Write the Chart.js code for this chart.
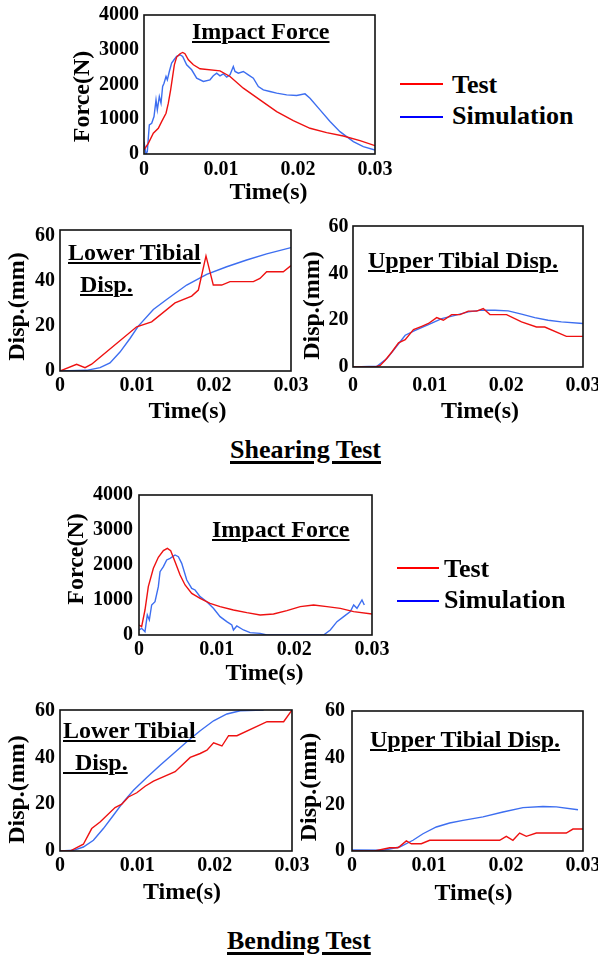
<!DOCTYPE html>
<html>
<head>
<meta charset="utf-8">
<script src="https://cdn.jsdelivr.net/npm/chart.js@4.4.1/dist/chart.umd.min.js"></script>
<style>
html,body{margin:0;padding:0;background:#fff;}
body{width:598px;height:956px;position:relative;overflow:hidden;font-family:"Liberation Serif","Times New Roman",serif;font-weight:bold;color:#000;}
canvas{position:absolute;}
.t{position:absolute;white-space:pre;line-height:1;font-size:24px;font-weight:bold;text-decoration:underline;text-decoration-thickness:2px;text-underline-offset:2px;}
.sec{position:absolute;white-space:pre;line-height:1;font-size:26px;font-weight:bold;text-decoration:underline;text-decoration-thickness:2.5px;text-underline-offset:3px;}
.lg{position:absolute;white-space:pre;line-height:1;font-size:26px;font-weight:bold;}
.ln{position:absolute;height:2px;}
</style>
</head>
<body>
<script>
// ---------- tick values / labels ----------
const timeTicks = [0, 0.01, 0.02, 0.03];
const timeTickLabels = ['0', '0.01', '0.02', '0.03'];
const forceTicks = [0, 1000, 2000, 3000, 4000];
const dispTicks = [0, 20, 40, 60];

// ---------- Shearing test : impact force (N) ----------
const shearForceTestT = [0, 0.00056, 0.00121, 0.00186, 0.00229, 0.00286, 0.00316, 0.00346, 0.00372, 0.00394, 0.00424, 0.00468, 0.00502, 0.00532, 0.00576, 0.00641, 0.00727, 0.00987, 0.01117, 0.0129, 0.01506, 0.01723, 0.01939, 0.02156, 0.02372, 0.02589, 0.02805, 0.03];
const shearForceTestF = [120, 308, 596, 740, 933, 1173, 1462, 1846, 2231, 2567, 2788, 2885, 2923, 2885, 2712, 2567, 2452, 2394, 2231, 1894, 1558, 1221, 962, 740, 615, 519, 385, 240];
const shearForceSimT = [0, 0.00026, 0.00043, 0.00069, 0.0010, 0.0013, 0.00156, 0.00173, 0.00199, 0.00221, 0.00242, 0.0026, 0.00286, 0.00303, 0.00329, 0.00359, 0.0039, 0.00424, 0.00468, 0.00502, 0.00554, 0.00619, 0.00684, 0.00771, 0.00857, 0.0090, 0.00944, 0.00987, 0.0103, 0.01074, 0.01117, 0.0116, 0.01182, 0.01225, 0.0129, 0.01355, 0.0142, 0.01485, 0.0155, 0.01636, 0.01723, 0.01853, 0.01983, 0.02091, 0.02156, 0.02286, 0.02416, 0.02545, 0.02632, 0.02719, 0.02848, 0.03];
const shearForceSimF = [350, 0, 70, 836, 885, 1077, 1558, 1269, 1654, 1462, 1942, 2038, 2231, 2135, 2375, 2615, 2712, 2808, 2856, 2808, 2567, 2423, 2183, 2087, 2135, 2250, 2327, 2250, 2308, 2212, 2279, 2519, 2375, 2327, 2375, 2279, 2183, 1942, 1846, 1798, 1750, 1702, 1683, 1731, 1606, 1269, 933, 644, 500, 356, 212, 115];

// ---------- Shearing test : lower tibial displacement (mm) ----------
const shearLowerTestT = [0, 0.00216, 0.00325, 0.00411, 0.0052, 0.00996, 0.0119, 0.01494, 0.0171, 0.01797, 0.01896, 0.01991, 0.021, 0.02208, 0.02511, 0.02597, 0.02684, 0.029, 0.03];
const shearLowerTestD = [0, 3.0, 1.5, 3.0, 6.1, 19.6, 21.8, 30.2, 33.2, 35.9, 51.0, 38.1, 38.1, 39.6, 39.6, 41.0, 44.0, 44.0, 46.7];
const shearLowerSimT = [0, 0.00346, 0.0052, 0.00649, 0.00779, 0.00909, 0.01017, 0.01212, 0.01385, 0.01645, 0.01905, 0.02165, 0.02424, 0.02684, 0.03];
const shearLowerSimD = [0, 0.3, 1.5, 3.6, 8.4, 14.4, 19.9, 27.3, 31.7, 38.1, 42.8, 46.2, 49.2, 51.9, 54.7];

// ---------- Shearing test : upper tibial displacement (mm) ----------
const shearUpperTestT = [0, 0.0029, 0.00355, 0.0042, 0.00507, 0.00594, 0.00681, 0.00789, 0.00897, 0.00984, 0.01092, 0.01179, 0.01287, 0.01396, 0.01504, 0.01613, 0.01699, 0.01786, 0.02003, 0.02198, 0.02393, 0.02501, 0.02783, 0.03];
const shearUpperTestD = [0, 0, 0.7, 2.9, 6.4, 10.3, 11.7, 16.0, 17.4, 18.6, 21.1, 20.0, 22.4, 22.4, 23.9, 23.9, 25.0, 22.4, 22.4, 19.3, 17.1, 17.1, 13.1, 13.1];
const shearUpperSimT = [0, 0.00312, 0.00442, 0.00551, 0.00681, 0.00811, 0.00984, 0.01157, 0.01331, 0.01504, 0.01678, 0.01851, 0.02024, 0.02198, 0.02371, 0.02545, 0.02718, 0.03];
const shearUpperSimD = [0, 0.3, 3.6, 8.1, 13.6, 15.7, 18.1, 20.7, 22.1, 23.6, 24.3, 24.3, 24.0, 22.6, 21.1, 20.0, 19.3, 18.6];

// ---------- Bending test : impact force (N) ----------
const bendForceTestT = [0, 0.00034, 0.00077, 0.0012, 0.00185, 0.00249, 0.00314, 0.00365, 0.00408, 0.00464, 0.00529, 0.00593, 0.00679, 0.00787, 0.00915, 0.01044, 0.01216, 0.01388, 0.0156, 0.01732, 0.01904, 0.02076, 0.02248, 0.0242, 0.02592, 0.02764, 0.03];
const bendForceTestF = [286, 238, 714, 1381, 1905, 2219, 2410, 2476, 2410, 2095, 1714, 1429, 1190, 1048, 905, 810, 714, 638, 571, 600, 695, 810, 857, 810, 762, 667, 600];
const bendForceSimT = [0, 0.00034, 0.00077, 0.00107, 0.00133, 0.00163, 0.00206, 0.00249, 0.00271, 0.00314, 0.00357, 0.004, 0.00464, 0.00507, 0.0055, 0.00615, 0.00679, 0.00722, 0.00787, 0.00873, 0.00958, 0.01044, 0.0113, 0.01195, 0.01216, 0.01259, 0.01345, 0.01431, 0.0156, 0.01646, 0.0199, 0.02377, 0.02463, 0.02549, 0.02635, 0.02721, 0.02764, 0.02807, 0.02871, 0.02901];
const bendForceSimF = [143, 190, 95, 571, 429, 857, 952, 1381, 1810, 1952, 2143, 2190, 2286, 2238, 2048, 1571, 1333, 1286, 1095, 952, 762, 524, 381, 286, 143, 257, 143, 67, 48, 0, 0, 0, 143, 381, 524, 667, 857, 762, 1000, 857];

// ---------- Bending test : lower tibial displacement (mm) ----------
const bendLowerTestT = [0, 0.0013, 0.00302, 0.0041, 0.00518, 0.00712, 0.00799, 0.00885, 0.00993, 0.01101, 0.01209, 0.01489, 0.01684, 0.01813, 0.019, 0.01986, 0.02094, 0.0218, 0.02288, 0.02677, 0.02892, 0.03];
const bendLowerTestD = [0, 0, 2.9, 9.6, 12.4, 18.6, 20.0, 23.1, 24.9, 27.7, 29.9, 33.9, 40.0, 41.7, 43.1, 46.3, 44.9, 49.3, 49.3, 55.3, 55.3, 60.3];
const bendLowerSimT = [0, 0.00173, 0.00302, 0.00432, 0.00561, 0.00691, 0.0082, 0.0095, 0.01122, 0.01295, 0.01468, 0.0164, 0.01813, 0.01986, 0.02158, 0.02331, 0.02633];
const bendLowerSimD = [0, 0.3, 1.7, 4.6, 9.6, 15.3, 21.0, 26.0, 31.4, 36.7, 41.7, 46.7, 51.4, 55.7, 58.6, 60.0, 60.3];

// ---------- Bending test : upper tibial displacement (mm) ----------
const bendUpperTestT = [0, 0.00294, 0.00489, 0.00597, 0.00706, 0.00771, 0.009, 0.01009, 0.01918, 0.02004, 0.0209, 0.02177, 0.02264, 0.02394, 0.02783, 0.0287, 0.03];
const bendUpperTestD = [0, 0, 1.4, 1.4, 4.3, 3.1, 3.1, 4.6, 4.6, 6.3, 4.6, 7.7, 6.3, 7.7, 7.7, 9.4, 9.4];
const bendUpperSimT = [0, 0.00403, 0.00619, 0.00792, 0.00922, 0.01095, 0.01268, 0.01442, 0.01701, 0.01961, 0.02221, 0.0248, 0.02654, 0.02935];
const bendUpperSimD = [0.4, 0.3, 1.7, 4.6, 7.4, 10.3, 12.0, 13.1, 14.6, 16.7, 18.6, 19.1, 18.9, 17.7];

// ---------- styling ----------
const RED = '#ee1111';
const BLUE = '#3d6ef0';
const FONT = '"Liberation Serif", "Times New Roman", serif';

const framePlugin = {
  id: 'frame',
  afterDatasetsDraw(chart) {
    const { ctx, chartArea: a } = chart;
    ctx.save();
    ctx.strokeStyle = '#111';
    ctx.lineWidth = 1.6;
    ctx.strokeRect(a.left, a.top, a.right - a.left, a.bottom - a.top);
    ctx.restore();
  }
};

function labelFor(ticks, labels, v) {
  const i = ticks.findIndex(t => Math.abs(t - v) < 1e-9);
  return i >= 0 ? labels[i] : '';
}

function makePanel(box, plot, yMax, yTicks, yTitle, xTitle, lay, series) {
  const cv = document.createElement('canvas');
  cv.width = box.w; cv.height = box.h;
  cv.style.left = box.x + 'px'; cv.style.top = box.y + 'px';
  cv.style.width = box.w + 'px'; cv.style.height = box.h + 'px';
  document.body.appendChild(cv);
  const tickFont = { family: FONT, size: 20, weight: 'bold', lineHeight: 1 };
  const titleFont = { family: FONT, size: 24, weight: 'bold', lineHeight: 1 };
  new Chart(cv, {
    type: 'line',
    data: {
      datasets: series.map(s => ({
        label: s.label,
        data: s.t.map((x, i) => ({ x: x, y: s.v[i] })),
        borderColor: s.color,
        borderWidth: 1.4,
        pointRadius: 0,
        tension: 0,
        fill: false
      }))
    },
    options: {
      responsive: false,
      animation: false,
      devicePixelRatio: 1,
      layout: { padding: { left: 0, top: plot.t - box.y, right: box.x + box.w - plot.r, bottom: 0 } },
      plugins: { legend: { display: false }, tooltip: { enabled: false } },
      scales: {
        x: {
          type: 'linear', min: 0, max: 0.03,
          grid: { display: false, drawTicks: false }, border: { display: false },
          afterBuildTicks: s => { s.ticks = timeTicks.map(v => ({ value: v })); },
          afterFit: s => { s.height = box.y + box.h - plot.b; s.paddingLeft = 0; s.paddingRight = 0; },
          ticks: {
            padding: lay.xTickPad, autoSkip: false, maxRotation: 0, minRotation: 0, color: '#000', font: tickFont,
            callback: v => labelFor(timeTicks, timeTickLabels, v)
          },
          title: { display: true, text: xTitle, color: '#000', font: titleFont,
                   padding: { top: 0, bottom: box.y + box.h - lay.xTitleY - 12 } }
        },
        y: {
          type: 'linear', min: 0, max: yMax,
          grid: { display: false, drawTicks: false }, border: { display: false },
          afterBuildTicks: s => { s.ticks = yTicks.map(v => ({ value: v })); },
          afterFit: s => { s.width = plot.l - box.x; s.paddingTop = 0; s.paddingBottom = 0; },
          ticks: {
            padding: lay.yTickPad, autoSkip: false, color: '#000', font: tickFont,
            callback: v => String(v)
          },
          title: { display: true, text: yTitle, color: '#000', font: titleFont,
                   padding: { top: lay.yTitleX - box.x - 12, bottom: 0 } }
        }
      }
    },
    plugins: [framePlugin]
  });
}

// Shearing: impact force
makePanel({ x: 40, y: 0, w: 360, h: 205 }, { l: 144, t: 15, r: 375, b: 154 }, 4000, forceTicks,
  'Force(N)    ', '   Time(s)', { yTitleX: 83, xTitleY: 193, xTickPad: 5.5, yTickPad: 5 },
  [{ label: 'Test', t: shearForceTestT, v: shearForceTestF, color: RED },
   { label: 'Simulation', t: shearForceSimT, v: shearForceSimF, color: BLUE }]);

// Shearing: lower tibial disp
makePanel({ x: 0, y: 222, w: 310, h: 205 }, { l: 60, t: 230, r: 291, b: 371 }, 62.5, dispTicks,
  'Disp.(mm)  ', '    Time(s)', { yTitleX: 18, xTitleY: 412, xTickPad: 4.5, yTickPad: 5 },
  [{ label: 'Test', t: shearLowerTestT, v: shearLowerTestD, color: RED },
   { label: 'Simulation', t: shearLowerSimT, v: shearLowerSimD, color: BLUE }]);

// Shearing: upper tibial disp
makePanel({ x: 296, y: 216, w: 302, h: 211 }, { l: 353, t: 226, r: 583, b: 367 }, 60.3, dispTicks,
  'Disp.(mm)   ', '    Time(s)', { yTitleX: 313, xTitleY: 412, xTickPad: 8.5, yTickPad: 4.5 },
  [{ label: 'Test', t: shearUpperTestT, v: shearUpperTestD, color: RED },
   { label: 'Simulation', t: shearUpperSimT, v: shearUpperSimD, color: BLUE }]);

// Bending: impact force
makePanel({ x: 40, y: 485, w: 360, h: 205 }, { l: 139, t: 495, r: 372, b: 635 }, 4000, forceTicks,
  '  Force(N)', '   Time(s)', { yTitleX: 77, xTitleY: 674, xTickPad: 5, yTickPad: 6 },
  [{ label: 'Test', t: bendForceTestT, v: bendForceTestF, color: RED },
   { label: 'Simulation', t: bendForceSimT, v: bendForceSimF, color: BLUE }]);

// Bending: lower tibial disp
makePanel({ x: 0, y: 700, w: 310, h: 210 }, { l: 60, t: 710, r: 292, b: 851 }, 60.3, dispTicks,
  'Disp.(mm)   ', '  Time(s)', { yTitleX: 18, xTitleY: 893, xTickPad: 5, yTickPad: 5 },
  [{ label: 'Test', t: bendLowerTestT, v: bendLowerTestD, color: RED },
   { label: 'Simulation', t: bendLowerSimT, v: bendLowerSimD, color: BLUE }]);

// Bending: upper tibial disp
makePanel({ x: 296, y: 700, w: 302, h: 210 }, { l: 352, t: 711, r: 583, b: 851 }, 60, dispTicks,
  'Disp.(mm)  ', '  Time(s)', { yTitleX: 310, xTitleY: 894, xTickPad: 5, yTickPad: 7 },
  [{ label: 'Test', t: bendUpperTestT, v: bendUpperTestD, color: RED },
   { label: 'Simulation', t: bendUpperSimT, v: bendUpperSimD, color: BLUE }]);

// ---------- text overlays ----------
function addText(cls, text, left, top) {
  const d = document.createElement('div');
  d.className = cls; d.textContent = text;
  d.style.left = left + 'px'; d.style.top = top + 'px';
  document.body.appendChild(d);
}
function addLine(color, left, top, width) {
  const d = document.createElement('div');
  d.className = 'ln'; d.style.background = color;
  d.style.left = left + 'px'; d.style.top = top + 'px'; d.style.width = width + 'px';
  document.body.appendChild(d);
}
addText('t', 'Impact Force', 192, 19);
addText('t', 'Lower Tibial', 68, 240);
addText('t', 'Disp.', 80, 272);
addText('t', 'Upper Tibial Disp.', 368, 248);
addText('t', 'Impact Force', 212, 517);
addText('t', 'Lower Tibial', 63, 718);
addText('t', '  Disp.', 63, 750);
addText('t', 'Upper Tibial Disp.', 370, 727);
addText('sec', 'Shearing Test', 230, 437);
addText('sec', 'Bending Test', 227, 928);

addLine('#ff0000', 400, 83, 43);
addLine('#0000ff', 400, 116, 43);
addText('lg', 'Test', 452, 72);
addText('lg', 'Simulation', 452, 103);
addLine('#ff0000', 397, 567, 42);
addLine('#0000ff', 397, 600, 42);
addText('lg', 'Test', 444, 556);
addText('lg', 'Simulation', 444, 587);
</script>
</body>
</html>
